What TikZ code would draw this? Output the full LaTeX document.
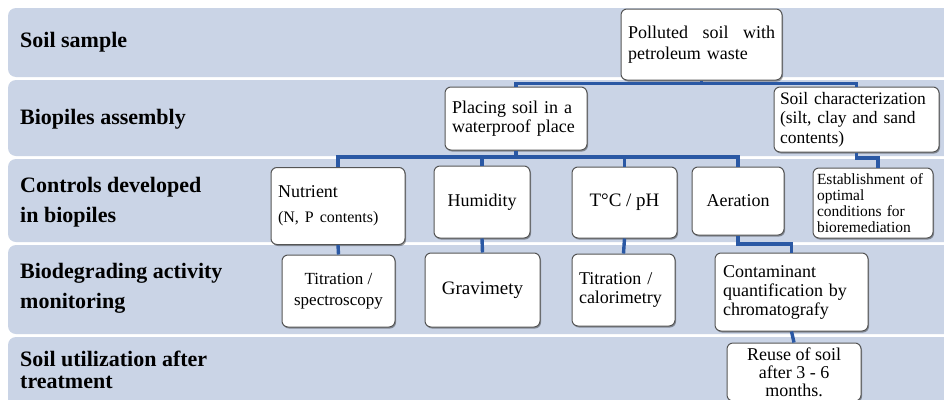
\documentclass[tikz,border=0pt]{standalone}
\usepackage{fontspec}
\setmainfont{Liberation Serif}
\usetikzlibrary{shadows}
\definecolor{bandc}{HTML}{CAD4E6}
\definecolor{connc}{HTML}{2A58A4}
\definecolor{boxline}{HTML}{555555}
\begin{document}
\begin{tikzpicture}[x=1pt,y=-1pt,
  band/.style={fill=bandc, rounded corners=8pt},
  lab/.style={anchor=west, inner sep=0pt, align=left},
  box/.style={draw=boxline, fill=white, line width=1pt, rounded corners=6pt, inner sep=0pt,
    drop shadow={shadow xshift=1pt, shadow yshift=-1.5pt, opacity=0.35, fill=black}},
  conn/.style={draw=connc, line width=3.4pt}]
\useasboundingbox (0,0) rectangle (944,399);
\clip (0,0) rectangle (944,399);
\fill[white] (0,0) rectangle (944,399);
% bands
\fill[band] (8,8) rectangle (960,77);
\fill[band] (8,80) rectangle (960,156);
\fill[band] (8,159) rectangle (960,242);
\fill[band] (8,245) rectangle (960,334);
\fill[band] (8,337) rectangle (960,420);
% labels
\node[lab, font=\fontsize{22}{30}\selectfont\bfseries] (l1) at (20,42) {Soil sample};
\node[lab, font=\fontsize{22}{30}\selectfont\bfseries] (l2) at (20,119) {Biopiles assembly};
\node[lab, font=\fontsize{22}{30}\selectfont\bfseries] (l3) at (20,202) {Controls developed\\in biopiles};
\node[lab, font=\fontsize{22}{30}\selectfont\bfseries] (l4) at (20,288) {Biodegrading activity\\monitoring};
\node[lab, font=\fontsize{22}{22}\selectfont\bfseries] (l5) at (20,370) {Soil utilization after\\treatment};
% boxes
\node[box, minimum width=161pt, minimum height=71pt, text width=147pt, align=left,
  font=\fontsize{18}{21}\selectfont] (poll) at (701.5,44.5)
  {\makebox[147pt]{Polluted\hfill soil\hfill with}\\petroleum waste};
\node[box, minimum width=142pt, minimum height=63pt, text width=128pt, align=left,
  font=\fontsize{18}{19}\selectfont] (place) at (516,118.5) {Placing soil in a\\waterproof place};
\node[box, minimum width=165pt, minimum height=65pt, text width=153pt, align=left,
  font=\fontsize{17.5}{19.5}\selectfont] (soilc) at (856.5,119.5)
  {Soil characterization\\(silt, clay and sand\\contents)};
\node[box, minimum width=134pt, minimum height=77pt, text width=120pt, align=left,
  font=\fontsize{18}{20}\selectfont] (nutr) at (338,206)
  {Nutrient\\[5pt]{\fontsize{16}{20}\selectfont (N, P contents)}};
\node[box, minimum width=96pt, minimum height=72pt, align=center,
  font=\fontsize{18}{20}\selectfont] (humid) at (482,202) {Humidity};
\node[box, minimum width=105pt, minimum height=71pt, align=center,
  font=\fontsize{19}{20}\selectfont] (temp) at (624.5,202.5) {T°C / pH};
\node[box, minimum width=92pt, minimum height=68pt, align=center,
  font=\fontsize{18}{20}\selectfont] (aer) at (738,201) {Aeration};
\node[box, minimum width=120pt, minimum height=70pt, text width=112pt, align=left,
  font=\fontsize{15.5}{16.2}\selectfont] (estab) at (873,203)
  {Establishment of\\optimal\\conditions for\\bioremediation};
\node[box, minimum width=113pt, minimum height=72pt, align=center,
  font=\fontsize{17}{21}\selectfont] (titsp) at (338.5,291) {Titration /\\spectroscopy};
\node[box, minimum width=115pt, minimum height=74pt, align=center,
  font=\fontsize{19}{20}\selectfont] (grav) at (482.5,290) {Gravimety};
\node[box, minimum width=103pt, minimum height=72pt, text width=89pt, align=left,
  font=\fontsize{18}{18.5}\selectfont] (titcal) at (623.5,290) {Titration /\\calorimetry};
\node[box, minimum width=153pt, minimum height=78pt, text width=137pt, align=left,
  font=\fontsize{18}{19}\selectfont] (cont) at (791.5,292)
  {Contaminant\\quantification by\\chromatografy};
\node[box, minimum width=134pt, minimum height=58pt, align=center,
  font=\fontsize{18}{18}\selectfont] (reuse) at (794,372) {Reuse of soil\\after 3 - 6\\months.};
% connectors
\coordinate (busA) at (0,83.5);
\coordinate (busB) at (0,157);
\coordinate (busC) at (0,158);
\coordinate (busD) at (0,244);
\coordinate (estabin) at ([xshift=5pt]estab.north);
\draw[conn] (place.north) -- (place.north |- busA) -- (soilc.north |- busA) -- (soilc.north);
\draw[conn] (poll.south) -- (poll.south |- busA);
\draw[conn] (nutr.north) -- (nutr.north |- busB) -- (aer.north |- busB) -- (aer.north);
\draw[conn] (place.south) -- (place.south |- busB);
\draw[conn] (humid.north) -- (humid.north |- busB);
\draw[conn] (temp.north) -- (temp.north |- busB);
\draw[conn] (soilc.south) -- (soilc.south |- busC) -- (estabin |- busC) -- (estabin);
\draw[conn] (nutr.south) -- (titsp.north);
\draw[conn] (humid.south) -- (grav.north);
\draw[conn] (temp.south) -- (titcal.north);
\draw[conn] (aer.south) -- (aer.south |- busD) -- (cont.north |- busD) -- (cont.north);
\draw[conn] (cont.south) -- (reuse.north);
\end{tikzpicture}
\end{document}
